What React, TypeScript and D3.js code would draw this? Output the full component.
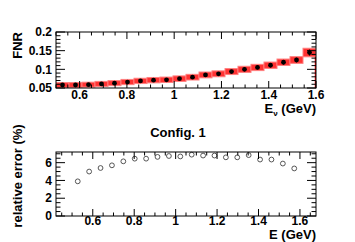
import { useEffect, useRef } from "react";
import * as d3 from "d3";

// bin edges and centres (GeV)
const binEdges = [0.5, 0.555, 0.61, 0.665, 0.72, 0.775, 0.83, 0.885, 0.94, 0.995, 1.05,
  1.105, 1.16, 1.215, 1.27, 1.325, 1.38, 1.435, 1.49, 1.545, 1.6];
const energies = [0.5275, 0.5825, 0.6375, 0.6925, 0.7475, 0.8025, 0.8575, 0.9125, 0.9675, 1.0225,
  1.0775, 1.1325, 1.1875, 1.2425, 1.2975, 1.3525, 1.4075, 1.4625, 1.5175, 1.5725];

// top panel: FNR per bin
const fnr = [0.058, 0.058, 0.059, 0.061, 0.063, 0.066, 0.069, 0.071, 0.072, 0.075,
  0.079, 0.085, 0.088, 0.094, 0.1, 0.105, 0.111, 0.119, 0.125, 0.145];
const statErr = [0.002, 0.002, 0.002, 0.0025, 0.0025, 0.003, 0.003, 0.003, 0.0035, 0.0035,
  0.004, 0.004, 0.0045, 0.0045, 0.005, 0.005, 0.0055, 0.006, 0.006, 0.008];
const bandErr = [0.0065, 0.0065, 0.0066, 0.0067, 0.0068, 0.007, 0.0071, 0.0072, 0.0073, 0.0074,
  0.0076, 0.0078, 0.0079, 0.008, 0.0082, 0.0084, 0.0085, 0.0086, 0.009, 0.0115];

// bottom panel: relative error (%)
const relErr = [3.9, 5.0, 5.4, 5.7, 6.15, 6.45, 6.45, 6.65, 6.75, 6.7,
  6.9, 6.8, 6.8, 6.6, 6.6, 6.85, 6.35, 6.35, 5.9, 5.35];

const xTicks = [0.6, 0.8, 1.0, 1.2, 1.4, 1.6];
const fnrTicks = [0.05, 0.1, 0.15, 0.2];
const relTicks = [0, 2, 4, 6];

const FONT = "'Liberation Sans', Arial, Helvetica, sans-serif";

export default function App() {
  const svgRef = useRef<SVGSVGElement | null>(null);

  useEffect(() => {
    const svg = d3.select(svgRef.current);
    svg.selectAll("*").remove();
    const width = 355;
    const height = 242;
    svg.attr("width", width).attr("height", height);
    svg.append("rect").attr("width", width).attr("height", height).attr("fill", "white");

    const left = 56;
    const right = 316;

    // draws inward ticks on all four sides of a frame
    const drawFrame = (
      x: d3.ScaleLinear<number, number>,
      y: d3.ScaleLinear<number, number>,
      xMinor: number,
      yMinor: number,
      xMaj: number[],
      yMaj: number[]
    ) => {
      const g = svg.append("g");
      const [x0, x1] = x.range();
      const [y0, y1] = y.range(); // y0 bottom, y1 top
      const [dx0, dx1] = x.domain();
      const [dy0, dy1] = y.domain();
      const isMaj = (v: number, arr: number[]) => arr.some((m) => Math.abs(m - v) < 1e-6);
      const xs = d3.range(Math.ceil(dx0 / xMinor - 1e-6), Math.floor(dx1 / xMinor + 1e-6) + 1).map((k) => +(k * xMinor).toFixed(4));
      xs.forEach((v) => {
        const len = isMaj(v, xMaj) ? 7 : 3.5;
        const px = x(v);
        g.append("line").attr("x1", px).attr("x2", px).attr("y1", y0).attr("y2", y0 - len).attr("stroke", "black");
        g.append("line").attr("x1", px).attr("x2", px).attr("y1", y1).attr("y2", y1 + len).attr("stroke", "black");
      });
      const ys = d3.range(Math.ceil(dy0 / yMinor - 1e-6), Math.floor(dy1 / yMinor + 1e-6) + 1).map((k) => +(k * yMinor).toFixed(4));
      ys.forEach((v) => {
        const len = isMaj(v, yMaj) ? 9 : 4.5;
        const py = y(v);
        g.append("line").attr("x1", x0).attr("x2", x0 + len).attr("y1", py).attr("y2", py).attr("stroke", "black");
        g.append("line").attr("x1", x1).attr("x2", x1 - len).attr("y1", py).attr("y2", py).attr("stroke", "black");
      });
      g.append("rect")
        .attr("x", x0).attr("y", y1).attr("width", x1 - x0).attr("height", y0 - y1)
        .attr("fill", "none").attr("stroke", "black").attr("stroke-width", 1);
      g.selectAll("line").attr("stroke-width", 1);
    };

    const fmt = (v: number) => String(+v.toFixed(2));

    // ---------- top panel ----------
    const xTop = d3.scaleLinear().domain([0.5, 1.6]).range([left, right]);
    const yTop = d3.scaleLinear().domain([0.05, 0.2]).range([88, 32]);

    svg.append("clipPath").attr("id", "topclip").append("rect")
      .attr("x", left).attr("y", 32).attr("width", right - left).attr("height", 56);
    const band = svg.append("g").attr("clip-path", "url(#topclip)");
    fnr.forEach((v, i) => {
      const yHi = yTop(v + bandErr[i]);
      const yLo = yTop(v - bandErr[i]);
      band.append("rect")
        .attr("x", xTop(binEdges[i]))
        .attr("y", yHi)
        .attr("width", xTop(binEdges[i + 1]) - xTop(binEdges[i]))
        .attr("height", yLo - yHi)
        .attr("fill", "#ff0000")
        .attr("fill-opacity", 0.8)
        .attr("stroke", "#ff8080")
        .attr("stroke-width", 1);
    });
    // histogram edge down to the axis at the last bin
    band.append("line")
      .attr("x1", xTop(1.6) - 0.5).attr("x2", xTop(1.6) - 0.5)
      .attr("y1", yTop(fnr[fnr.length - 1] - bandErr[fnr.length - 1])).attr("y2", yTop(0.05))
      .attr("stroke", "#ff0000").attr("stroke-width", 1.5);

    const pts = svg.append("g");
    fnr.forEach((v, i) => {
      pts.append("line")
        .attr("x1", xTop(energies[i])).attr("x2", xTop(energies[i]))
        .attr("y1", yTop(v + statErr[i])).attr("y2", yTop(v - statErr[i]))
        .attr("stroke", "black").attr("stroke-width", 1.2);
      pts.append("circle")
        .attr("cx", xTop(energies[i])).attr("cy", yTop(v)).attr("r", 2.4).attr("fill", "black");
    });

    drawFrame(xTop, yTop, 0.05, 0.01, xTicks, fnrTicks);

    const labels = svg.append("g")
      .attr("font-family", FONT).attr("font-weight", "bold").attr("font-size", 12).attr("fill", "black");
    xTicks.forEach((t) => {
      labels.append("text").attr("x", xTop(t)).attr("y", 99).attr("text-anchor", "middle").text(fmt(t));
    });
    fnrTicks.forEach((t) => {
      labels.append("text").attr("x", 52).attr("y", yTop(t)).attr("dy", "0.35em").attr("text-anchor", "end").text(fmt(t));
    });

    const titles = svg.append("g")
      .attr("font-family", FONT).attr("font-weight", "bold").attr("font-size", 13).attr("fill", "black");
    titles.append("text")
      .attr("transform", `translate(22,32) rotate(-90)`)
      .attr("text-anchor", "end").text("FNR");
    const ex = titles.append("text").attr("x", right).attr("y", 113).attr("text-anchor", "end");
    ex.append("tspan").text("E");
    ex.append("tspan").attr("font-size", 8).attr("dy", 3).text("ν");
    ex.append("tspan").attr("dy", -3).text(" (GeV)");

    // ---------- bottom panel ----------
    const xBot = d3.scaleLinear().domain([0.4225, 1.6775]).range([left, right]);
    const yBot = d3.scaleLinear().domain([0, 7.2]).range([216, 152]);

    titles.append("text").attr("x", 178).attr("y", 137).attr("text-anchor", "middle").text("Config. 1");

    const opn = svg.append("g");
    relErr.forEach((v, i) => {
      opn.append("circle")
        .attr("cx", xBot(energies[i])).attr("cy", yBot(v)).attr("r", 2.4)
        .attr("fill", "none").attr("stroke", "#444").attr("stroke-width", 0.9);
    });

    drawFrame(xBot, yBot, 0.05, 0.5, xTicks, relTicks);

    xTicks.forEach((t) => {
      labels.append("text").attr("x", xBot(t)).attr("y", 225).attr("text-anchor", "middle").text(fmt(t));
    });
    relTicks.forEach((t) => {
      labels.append("text").attr("x", 52).attr("y", yBot(t)).attr("dy", "0.35em").attr("text-anchor", "end").text(fmt(t));
    });

    titles.append("text")
      .attr("transform", `translate(22,176) rotate(-90)`)
      .attr("text-anchor", "middle").text("relative error (%)");
    titles.append("text").attr("x", right).attr("y", 239).attr("text-anchor", "end").text("E (GeV)");
  }, []);

  return (
    <div style={{ position: "absolute", left: 0, top: 0 }}>
      <svg ref={svgRef} style={{ display: "block" }} />
    </div>
  );
}
